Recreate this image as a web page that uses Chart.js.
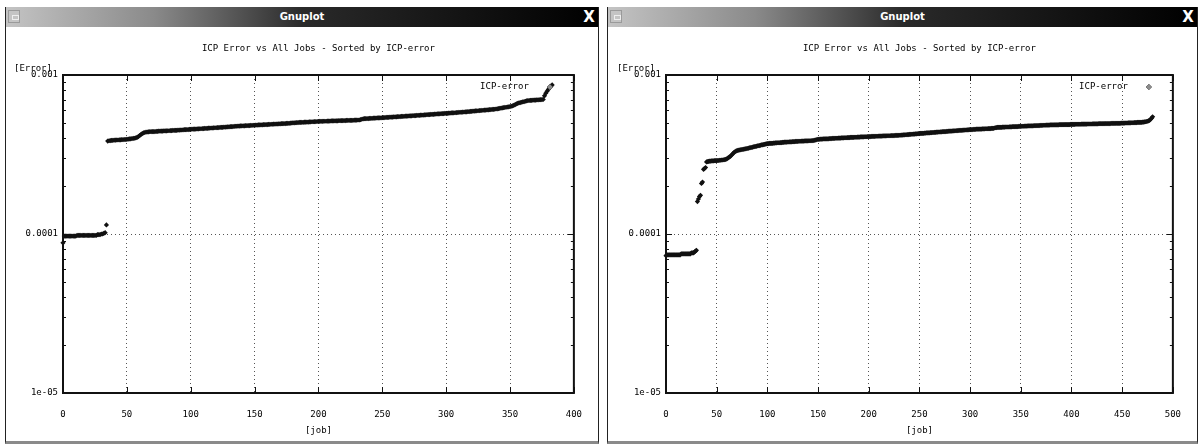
<!DOCTYPE html>
<html>
<head>
<meta charset="utf-8">
<title>ICP Error vs All Jobs - Sorted by ICP-error</title>
<script src="https://cdn.jsdelivr.net/npm/chart.js@4.4.0/dist/chart.umd.min.js"></script>
<style>
  body { margin: 0; width: 1199px; height: 445px; background: #fff; position: relative; overflow: hidden; font-family: "DejaVu Sans", sans-serif; }
  .win { position: absolute; top: 7px; height: 434px; background: #fff; border-left: 1px solid #222; border-right: 1px solid #222; border-bottom: 3px solid #8a8a8a; }
  .bar { position: relative; height: 20px; line-height: 20px; text-align: center; color: #fff; font-weight: bold; font-size: 10px;
         background: linear-gradient(to right, #c4c4c4 0%, #8a8a8a 25%, #2a2a2a 50%, #000 100%); }
  .ico { position: absolute; left: 2px; top: 3px; width: 12px; height: 13px; background: #c4c4c4; border: 1px solid #9a9a9a; box-sizing: border-box; }
  .ico:after { content: ""; position: absolute; left: 3px; top: 4px; width: 5px; height: 3px; border: 1px solid #eee; }
  .close { position: absolute; right: 1px; top: 0; width: 16px; height: 20px; font-size: 15px; line-height: 20px; color: #fff; }
  .plot { position: absolute; left: 0; top: 20px; }
</style>
</head>
<body>

<div class="win" style="left:5px; width:592px;">
  <div class="bar"><span class="ico"></span>Gnuplot<span class="close">X</span></div>
  <div class="plot"><canvas id="chartLeft" width="592" height="412"></canvas></div>
</div>

<div class="win" style="left:607px; width:589px;">
  <div class="bar"><span class="ico"></span>Gnuplot<span class="close">X</span></div>
  <div class="plot"><canvas id="chartRight" width="589" height="412"></canvas></div>
</div>

<script>
// ICP error per job, sorted, in units of 1e-6
var leftErrMicro = [
  88, 97, 97, 97, 97, 97, 97, 97, 97, 97,
  97, 98, 98, 98, 98, 98, 98, 98, 98, 98,
  98, 98, 98, 98, 98, 98, 98, 99, 99, 99,
  100, 100, 101, 102, 114,
  384, 386, 387, 388, 388, 389, 389, 390, 390, 391,
  391, 392, 392, 393, 393, 394, 395, 396, 397, 398,
  399, 400, 402, 405, 410, 416, 422, 428, 432, 435,
  437, 438, 439,
  440, 440, 441, 441, 441, 442, 442, 443, 443, 444,
  444, 445, 445, 445, 446, 446, 447, 447, 448, 448,
  449, 449, 450, 450, 451, 451, 452, 453, 453, 454,
  454, 455,
  455, 456, 456, 457, 457, 458, 458, 459, 459, 460,
  460, 461, 461, 462, 463, 463, 464, 464, 465, 466,
  466, 467, 467, 468, 469, 469, 470, 470, 471, 472,
  472, 473, 474, 474, 475, 476, 476, 477, 477, 478,
  478, 479, 479, 480, 480, 481, 481, 482, 482, 483,
  483, 484, 484, 485, 485, 486, 486, 487, 487, 488,
  488, 489, 489, 490, 490, 491, 491, 492, 492, 493,
  493, 494, 494, 495, 495, 496, 497, 497, 498, 499,
  500, 500, 501, 502, 502, 503, 503, 504, 504, 505,
  505, 506, 506, 507, 507, 508, 508, 509, 509, 510,
  510, 511, 511, 511, 512, 512, 512, 513, 513, 513,
  514, 514, 514, 515, 515, 515, 516, 516, 516, 517,
  517, 517, 518, 518, 518, 519, 519, 519, 520, 520,
  520, 521, 521, 524, 527, 530,
  531, 531, 532, 532, 533, 534, 534, 535, 535, 536,
  537, 537, 538, 538, 539, 540, 540, 541, 541, 542,
  543, 543, 544, 545, 545, 546, 547, 547, 548, 549,
  549, 550, 551, 551, 552, 553, 553, 554, 555, 555,
  556, 557, 558, 558, 559, 560, 560, 561, 562, 563,
  563, 564, 565, 566, 566, 567, 568, 569, 569, 570,
  571, 571, 572, 573,
  574, 574, 575, 576, 577, 578, 578, 579, 580, 581,
  582, 583, 583, 584, 585, 586, 587, 588, 589, 590,
  591, 592, 593, 594, 595, 596, 597, 598, 599, 600,
  601, 602, 603, 604, 605, 606, 607, 608, 609, 611,
  613, 615, 617, 619, 621, 623, 625, 627, 629, 631,
  633, 636, 640, 645, 652, 658, 663, 667, 671, 674,
  677, 680, 684, 688, 690, 691, 692, 693, 694, 695,
  696, 697, 698, 699, 700, 701, 702,
  740, 768, 790, 812, 833, 851, 866
];

var rightErrMicro = [
  73, 74, 74, 74, 74, 74, 74, 74, 74, 74,
  74, 74, 74, 74, 74, 75, 75, 75, 75, 75,
  75, 75, 75, 75, 75, 76, 76, 76, 77, 78,
  79,
  160, 166, 172, 175, 208, 212, 255, 258, 262,
  284, 285, 286, 287, 287, 288, 288, 288, 289, 289,
  289, 290, 290, 291, 291, 292, 292, 293, 294, 295,
  297, 300, 303, 306, 310, 315, 320, 325, 329, 332,
  334, 336, 337, 338, 339, 340, 341, 342, 343, 344,
  345, 346, 348, 349, 350, 351, 353, 354, 355, 356,
  358, 359, 360, 361, 363, 364, 365, 366, 368, 369,
  370, 370, 371, 371, 372, 372, 373, 373, 374, 374,
  375, 375, 375, 376, 376, 377, 377, 378, 378, 378,
  379, 379, 380, 380, 380, 381, 381, 381, 382, 382,
  382, 383, 383, 383, 384, 384, 384, 385, 385, 385,
  385, 386, 386, 386, 387, 387, 388, 389, 391, 393,
  394, 394, 395, 395, 395, 396, 396, 396, 397, 397,
  397, 398, 398, 398, 399, 399, 399, 400, 400, 400,
  401, 401, 401, 402, 402, 402, 403, 403, 403, 404,
  404, 404, 405, 405, 405, 405, 406, 406, 406, 407,
  407, 407, 408, 408, 408, 408, 409, 409, 409, 410,
  410, 410, 410, 411, 411, 411, 411, 412, 412, 412,
  413, 413, 413, 413, 414, 414, 414, 414, 415, 415,
  415, 415, 416, 416, 416, 416, 417, 417, 417, 417,
  418, 418, 419, 419, 420, 420, 421, 421, 422, 422,
  423, 423, 424, 424, 425, 425, 426, 426, 427, 428,
  428, 429, 429, 430, 430, 431, 431, 432, 432, 433,
  433, 434, 434, 435, 435, 436, 436, 437, 437, 438,
  438, 439, 439, 440, 440, 441, 441, 442, 442, 443,
  443, 444, 444, 445, 445, 446, 446, 447, 447, 448,
  448, 449, 449, 450, 450, 451, 451, 452, 452, 453,
  453, 454, 454, 455, 455, 455, 456, 456, 456, 457,
  457, 457, 458, 458, 458, 459, 459, 459, 460, 460,
  460, 461, 461, 462, 464, 466, 467, 468, 468, 469,
  469, 469, 470, 470, 470, 471, 471, 471, 471, 472,
  472, 472, 473, 473, 473, 474, 474, 474, 475, 475,
  475, 476, 476, 476, 477, 477, 477, 478, 478, 478,
  479, 479, 479, 480, 480, 480, 481, 481, 481, 482,
  482, 482, 483, 483, 483, 484, 484, 484, 484, 485,
  485, 485, 485, 486, 486, 486, 486, 486, 487, 487,
  487, 487, 487, 488, 488, 488, 488, 488, 488, 489,
  489, 489, 489, 489, 490, 490, 490, 490, 490, 490,
  491, 491, 491, 491, 491, 491, 492, 492, 492, 492,
  492, 493, 493, 493, 493, 493, 493, 494, 494, 494,
  494, 494, 494, 495, 495, 495, 495, 495, 495, 496,
  496, 496, 496, 496, 497, 497, 497, 497, 497, 498,
  498, 498, 498, 499, 499, 499, 500, 500, 500, 501,
  501, 501, 502, 502, 502, 503, 503, 503, 504, 504,
  505, 506, 507, 508, 510, 512, 515, 519, 526, 535, 546
];

var seriesLabel = 'ICP-error';
var chartTitle = 'ICP Error vs All Jobs - Sorted by ICP-error';
var xTitle = '[job]';
var yTitle = '[Error]';
var leftXMax = 400;
var rightXMax = 500;
var xStep = 50;
var yMajorTicks = [1e-5, 1e-4, 1e-3];
var yTickLabels = ['1e-05', '0.0001', '0.001'];

var FONT = { family: '"DejaVu Sans Mono", monospace', size: 9 };

// major decades plus the 2..9 minor positions between them
function yTickList() {
  var list = [];
  for (var i = 0; i < yMajorTicks.length; i++) {
    list.push({ value: yMajorTicks[i], major: true });
    if (i < yMajorTicks.length - 1) {
      for (var m = 2; m <= 9; m++) list.push({ value: yMajorTicks[i] * m, major: false });
    }
  }
  return list;
}

// gnuplot style frame, inward ticks, title, y label and key
var gnuplotFrame = {
  id: 'gnuplotFrame',
  afterDraw: function(chart) {
    var ctx = chart.ctx, a = chart.chartArea;
    var xs = chart.scales.x, ys = chart.scales.y;
    ctx.save();
    ctx.strokeStyle = '#111';
    ctx.lineWidth = 1;
    ctx.beginPath();
    xs.ticks.forEach(function(t) {
      var px = Math.round(xs.getPixelForValue(t.value)) + 0.5;
      ctx.moveTo(px, a.bottom); ctx.lineTo(px, a.bottom - 6);
      ctx.moveTo(px, a.top); ctx.lineTo(px, a.top + 6);
    });
    ys.ticks.forEach(function(t) {
      var py = Math.round(ys.getPixelForValue(t.value)) + 0.5;
      var len = t.major ? 6 : 3;
      ctx.moveTo(a.left, py); ctx.lineTo(a.left + len, py);
      ctx.moveTo(a.right, py); ctx.lineTo(a.right - len, py);
    });
    ctx.stroke();

    ctx.lineWidth = 2;
    ctx.strokeRect(a.left, a.top, a.right - a.left, a.bottom - a.top);

    ctx.fillStyle = '#000';
    ctx.font = FONT.size + 'px ' + FONT.family;
    ctx.textBaseline = 'middle';
    ctx.textAlign = 'center';
    ctx.fillText(chartTitle, (a.left + a.right) / 2, 22);

    ctx.textAlign = 'left';
    ctx.fillText(yTitle, a.left - 49, a.top - 6);

    // key: text then sample on its right
    ctx.textAlign = 'right';
    ctx.fillText(chart.data.datasets[0].label, a.right - 45, a.top + 12);
    Chart.helpers.drawPoint(ctx, { pointStyle: 'rectRot', radius: 3, borderWidth: 0, rotation: 0 },
      a.right - 24, a.top + 12);
    ctx.fillStyle = '#8c8c8c';
    ctx.fill();
    ctx.restore();
  }
};

function makeChart(id, values, xMax, yWidth, rightPad) {
  var points = values.map(function(v, i) { return { x: i, y: v * 1e-6 }; });
  return new Chart(document.getElementById(id), {
    type: 'scatter',
    data: {
      datasets: [{
        label: seriesLabel,
        data: points,
        pointStyle: 'rectRot',
        pointRadius: 2.6,
        pointBorderWidth: 0,
        pointBackgroundColor: '#111',
        backgroundColor: '#111',
        clip: false
      }]
    },
    options: {
      responsive: false,
      animation: false,
      devicePixelRatio: 1,
      layout: { padding: { left: 0, right: rightPad, top: 48, bottom: 0 } },
      plugins: {
        legend: { display: false },
        tooltip: { enabled: false },
        title: { display: false }
      },
      scales: {
        x: {
          type: 'linear',
          min: 0,
          max: xMax,
          afterFit: function(s) { s.height = 46; },
          ticks: { stepSize: xStep, padding: 16, color: '#000', font: FONT, maxRotation: 0, autoSkip: false },
          grid: { drawTicks: false, color: '#555', lineWidth: 1 },
          border: { display: false, dash: [1, 3] },
          title: { display: true, text: xTitle, color: '#000', font: FONT, padding: { top: 0, bottom: 3 } }
        },
        y: {
          type: 'logarithmic',
          min: yMajorTicks[0],
          max: yMajorTicks[yMajorTicks.length - 1],
          afterFit: function(s) { s.width = yWidth; },
          afterBuildTicks: function(s) { s.ticks = yTickList(); },
          ticks: {
            padding: 5, color: '#000', font: FONT, autoSkip: false,
            callback: function(value) {
              var k = yMajorTicks.indexOf(value);
              return k >= 0 ? yTickLabels[k] : '';
            }
          },
          grid: {
            drawTicks: false,
            lineWidth: 1,
            color: function(c) {
              return c.tick && yMajorTicks.indexOf(c.tick.value) >= 0 ? '#555' : 'rgba(0,0,0,0)';
            }
          },
          border: { display: false, dash: [1, 3] }
        }
      }
    },
    plugins: [gnuplotFrame]
  });
}

makeChart('chartLeft', leftErrMicro, leftXMax, 57, 23);
makeChart('chartRight', rightErrMicro, rightXMax, 58, 21);
</script>
</body>
</html>
